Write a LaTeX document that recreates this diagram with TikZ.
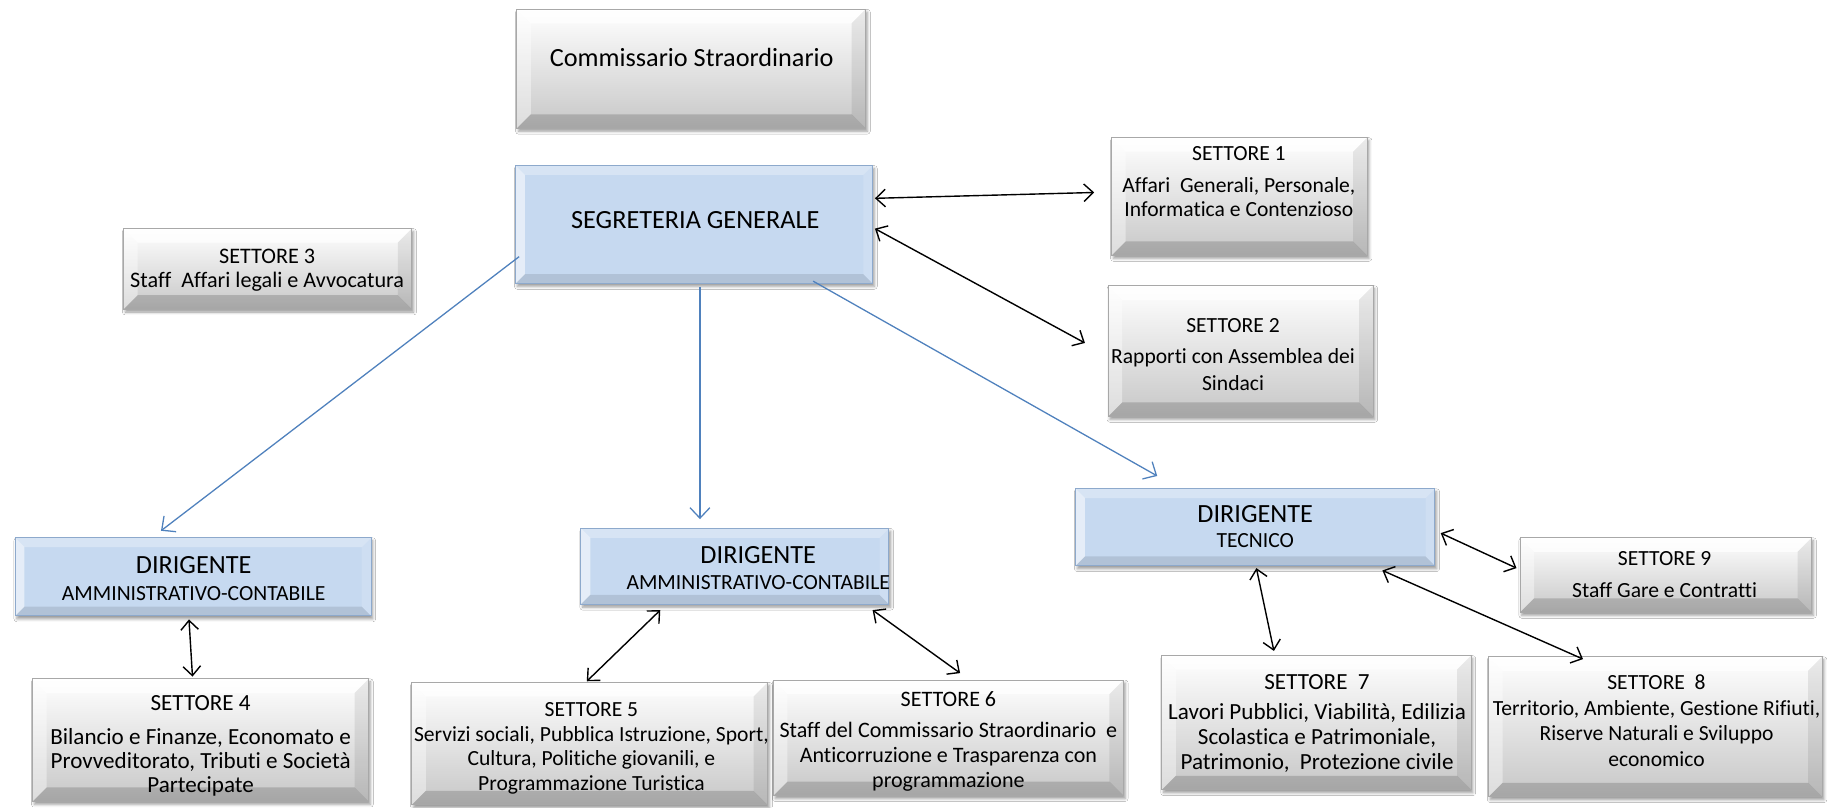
\documentclass[tikz,border=0pt]{standalone}
\usepackage{fontspec}
\setmainfont{Carlito}[Ligatures=NoCommon]
\usetikzlibrary{arrows.meta,calc,shadows.blur}

\definecolor{bluefill}{HTML}{C6D9F0}
\definecolor{blueline}{HTML}{8DA9CC}
\definecolor{grayline}{HTML}{A8A8A8}
\definecolor{arrowblue}{HTML}{4F81BD}

\newcommand\smf{\fontsize{18.5}{21.5}\selectfont}
\newcommand\lgf{\fontsize{19.8}{21.5}\selectfont}
\newcommand\bgf{\fontsize{22.5}{27}\selectfont}
\newcommand\txtlines[2]{\vtop{\baselineskip=#1\relax\lineskiplimit=-\maxdimen\lineskip=0pt\tabskip=0pt\halign{\hfil##\hfil\cr#2\crcr}}}

\def\bevgray{12}
\def\bevblue{8}

\newcommand\bevel[3]{%
  \fill[#3top] (#1.north west) -- (#1.north east) -- ([xshift=-#2pt,yshift=-#2pt]#1.north east) -- ([xshift=#2pt,yshift=-#2pt]#1.north west) -- cycle;
  \fill[#3left] (#1.north west) -- ([xshift=#2pt,yshift=-#2pt]#1.north west) -- ([xshift=#2pt,yshift=#2pt]#1.south west) -- (#1.south west) -- cycle;
  \fill[#3right] (#1.north east) -- (#1.south east) -- ([xshift=-#2pt,yshift=#2pt]#1.south east) -- ([xshift=-#2pt,yshift=-#2pt]#1.north east) -- cycle;
  \fill[#3bottom] (#1.south west) -- ([xshift=#2pt,yshift=#2pt]#1.south west) -- ([xshift=-#2pt,yshift=#2pt]#1.south east) -- (#1.south east) -- cycle;
  \draw[#3edge] (#1.north west) rectangle (#1.south east);
}
\newcommand\bevbox[6]{%
  \node[#6box, minimum width={#4-#2}, minimum height={#5-#3}] (#1) at ({(#2+#4)/2},{(#3+#5)/2}) {};
  \bevel{#1}{\csname bev#6\endcsname}{#6}}

\tikzset{
  boxshadow/.style={blur shadow={shadow xshift=1.5pt, shadow yshift=-2.5pt, shadow blur radius=2.5pt, shadow opacity=40}},
  graybox/.style={rectangle, inner sep=0pt, outer sep=0pt, top color=white, bottom color=black!22, boxshadow},
  bluebox/.style={rectangle, inner sep=0pt, outer sep=0pt, fill=bluefill, boxshadow},
  graytop/.style={fill=white, fill opacity=0.75},
  grayleft/.style={fill=white, fill opacity=0.4},
  grayright/.style={fill=black, fill opacity=0.08},
  graybottom/.style={fill=black, fill opacity=0.16},
  grayedge/.style={draw=grayline, line width=0.8pt},
  bluetop/.style={fill=white, fill opacity=0.30},
  blueleft/.style={fill=white, fill opacity=0.55},
  blueright/.style={fill=white, fill opacity=0.15},
  bluebottom/.style={fill=black, fill opacity=0.10},
  blueedge/.style={draw=blueline, line width=0.8pt},
  txt/.style={inner sep=0pt, outer sep=0pt, anchor=base, text=black},
  blu/.style={draw=arrowblue, line width=1.1pt, -{Straight Barb[length=9pt,width=17pt,line width=1.1pt]}},
  dbl/.style={draw=black, line width=1.2pt, {Straight Barb[length=8pt,width=15pt,line width=1.2pt]}-{Straight Barb[length=8pt,width=15pt,line width=1.2pt]}}
}

\begin{document}
\begin{tikzpicture}[x=1pt,y=-1pt]
\useasboundingbox (0,0) rectangle (1567,692);
\fill[white] (0,0) rectangle (1567,692);

% boxes
\bevbox{comm}{443}{8}{742}{110}{gray}
\bevbox{seg}{442}{142}{748}{243}{blue}
\bevbox{s3}{106}{196}{353}{265}{gray}
\bevbox{s1}{953}{118}{1172}{219}{gray}
\bevbox{s2}{950}{245}{1177}{357}{gray}
\bevbox{dl}{13}{461}{318}{528}{blue}
\bevbox{dc}{498}{453}{762}{518}{blue}
\bevbox{dt}{922}{419}{1230}{485}{blue}
\bevbox{s9}{1303}{461}{1553}{525}{gray}
\bevbox{s4}{28}{582}{316}{687}{gray}
\bevbox{s5}{353}{585}{658}{690}{gray}
\bevbox{s6}{663}{583}{963}{682}{gray}
\bevbox{s7}{996}{562}{1261}{677}{gray}
\bevbox{s8}{1276}{563}{1562}{683}{gray}

% texts
\node[txt] (tcomm) at (593,57) {\bgf Commissario Straordinario};
\node[txt] (tseg) at (596,196) {\bgf SEGRETERIA GENERALE};
\node[txt] (ts3) at (229,226) {\fontsize{19}{21}\selectfont\txtlines{20.5pt}{SETTORE 3\cr Staff~ Affari legali e Avvocatura\cr}};
\node[txt] (ts1) at (1062,138) {\smf\txtlines{21pt}{SETTORE 1\cr\noalign{\vskip6pt} Affari~ Generali, Personale,\cr Informatica e Contenzioso\cr}};
\node[txt] (ts2) at (1057,285) {\smf\txtlines{23pt}{SETTORE 2\cr\noalign{\vskip4pt} Rapporti con Assemblea dei\cr Sindaci\cr}};
\node[txt] (tdl) at (166,492) {\txtlines{23pt}{\bgf DIRIGENTE\cr \smf AMMINISTRATIVO-CONTABILE\cr}};
\node[txt] (tdc) at (650,483) {\txtlines{22pt}{\bgf DIRIGENTE\cr \smf AMMINISTRATIVO-CONTABILE\cr}};
\node[txt] (tdt) at (1076,448) {\txtlines{21pt}{\bgf DIRIGENTE\cr \smf TECNICO\cr}};
\node[txt] (ts9) at (1427,485) {\smf\txtlines{27pt}{SETTORE 9\cr Staff Gare e Contratti\cr}};
\node[txt] (ts4) at (172,609) {\lgf\txtlines{20.5pt}{SETTORE 4\cr\noalign{\vskip8.5pt} Bilancio e Finanze, Economato e\cr Provveditorato, Tributi e Società\cr Partecipate\cr}};
\node[txt] (ts5) at (507,614) {\smf\txtlines{21.3pt}{SETTORE 5\cr Servizi sociali, Pubblica Istruzione, Sport,\cr Cultura, Politiche giovanili, e\cr Programmazione Turistica\cr}};
\node[txt] (ts6) at (813,606) {\fontsize{18.9}{21.5}\selectfont\txtlines{21.5pt}{SETTORE 6\cr\noalign{\vskip4.5pt} Staff del Commissario Straordinario~ e\cr Anticorruzione e Trasparenza con\cr programmazione\cr}};
\node[txt] (ts7) at (1129,591) {\lgf\txtlines{21.5pt}{SETTORE~ 7\cr\noalign{\vskip4.5pt} Lavori Pubblici, Viabilità, Edilizia\cr Scolastica e Patrimoniale,\cr Patrimonio,~ Protezione civile\cr}};
\node[txt] (ts8) at (1420,591) {\smf\txtlines{22pt}{SETTORE~ 8\cr Territorio, Ambiente, Gestione Rifiuti,\cr Riserve Naturali e Sviluppo\cr economico\cr}};

% blue arrows
\draw[blu] ([xshift=3pt,yshift=23pt]seg.south west) -- ([xshift=125pt,yshift=6pt]dl.north west);
\draw[blu] ([xshift=5pt,yshift=-3pt]seg.south) -- ([xshift=-30pt,yshift=8pt]dc.north);
\draw[blu] ([xshift=102pt,yshift=2pt]seg.south) -- ([xshift=70pt,yshift=11pt]dt.north west);

% black double arrows
\draw[dbl] ([xshift=2pt,yshift=22.5pt]seg.east) -- ([xshift=-15pt,yshift=3.5pt]s1.west);
\draw[dbl] ([xshift=2pt,yshift=-3.5pt]seg.east) -- ([xshift=-20pt,yshift=7pt]s2.west);
\draw[dbl] ([xshift=-3.5pt,yshift=-3pt]dl.south) -- ([xshift=-7pt,yshift=2pt]s4.north);
\draw[dbl] ([xshift=-64pt,yshift=-5pt]dc.south) -- ([xshift=-2.5pt,yshift=1pt]s5.north);
\draw[dbl] ([xshift=-14pt,yshift=-5pt]dc.south east) -- ([xshift=10pt,yshift=6pt]s6.north);
\draw[dbl] ([xshift=1pt,yshift=-2pt]dt.south) -- ([xshift=-36.5pt,yshift=4pt]s7.north);
\draw[dbl] ([xshift=5pt,yshift=-5pt]dt.east) -- ([xshift=-3pt,yshift=6pt]s9.west);
\draw[dbl] ([xshift=109pt,yshift=-4pt]dt.south) -- ([xshift=81pt,yshift=-2pt]s8.north west);
\end{tikzpicture}
\end{document}
